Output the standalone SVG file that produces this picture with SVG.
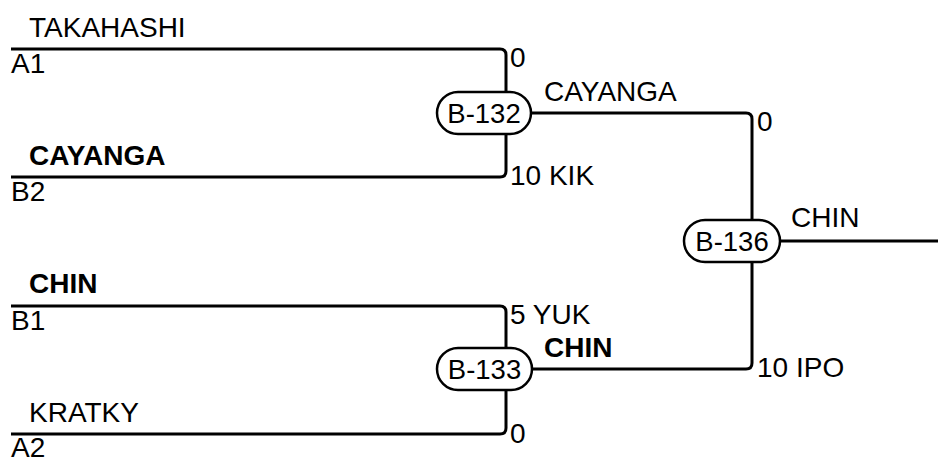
<svg xmlns="http://www.w3.org/2000/svg" width="938" height="460" viewBox="0 0 938 460">
<style>
text{font-family:"Liberation Sans",Arial,sans-serif;font-size:28px;fill:#000}
.b{font-weight:bold}
.ln{fill:none;stroke:#000;stroke-width:3}
.pill{fill:#fff;stroke:#000;stroke-width:2.5}
.pt{font-size:27.5px;text-anchor:middle}
</style>
<rect width="938" height="460" fill="#fff"/>
<g id="connectors">
<path class="ln" d="M11,49 H500 Q506,49 506,55 V171 Q506,177 500,177 H11"/>
<path class="ln" d="M11,306 H500 Q506,306 506,312 V428 Q506,434 500,434 H11"/>
<path class="ln" d="M531,113 H746 Q752,113 752,119 V363 Q752,369 746,369 H532"/>
<path class="ln" d="M780,241 H938"/>
</g>
<g id="slot-A1"><text x="29" y="37">TAKAHASHI</text><text x="11" y="73">A1</text></g>
<g id="slot-B2"><text class="b" x="29" y="165">CAYANGA</text><text x="11" y="201">B2</text></g>
<g id="slot-B1"><text class="b" x="29" y="293">CHIN</text><text x="11" y="330">B1</text></g>
<g id="slot-A2"><text x="29" y="422">KRATKY</text><text x="11" y="457">A2</text></g>
<g id="B-132">
<rect class="pill" x="437" y="92" width="94" height="42" rx="21"/>
<text class="pt" x="484" y="123">B-132</text>
<text x="510" y="67">0</text>
<text x="510" y="185">10 KIK</text>
<text x="544" y="101">CAYANGA</text>
</g>
<g id="B-133">
<rect class="pill" x="437" y="348" width="95" height="42" rx="21"/>
<text class="pt" x="484.5" y="379">B-133</text>
<text x="510" y="324">5 YUK</text>
<text x="510" y="443">0</text>
<text class="b" x="544" y="357">CHIN</text>
</g>
<g id="B-136">
<rect class="pill" x="684" y="220" width="96" height="42" rx="21"/>
<text class="pt" x="732" y="251">B-136</text>
<text x="757" y="131">0</text>
<text x="757" y="377">10 IPO</text>
<text x="791" y="227">CHIN</text>
</g>
</svg>
